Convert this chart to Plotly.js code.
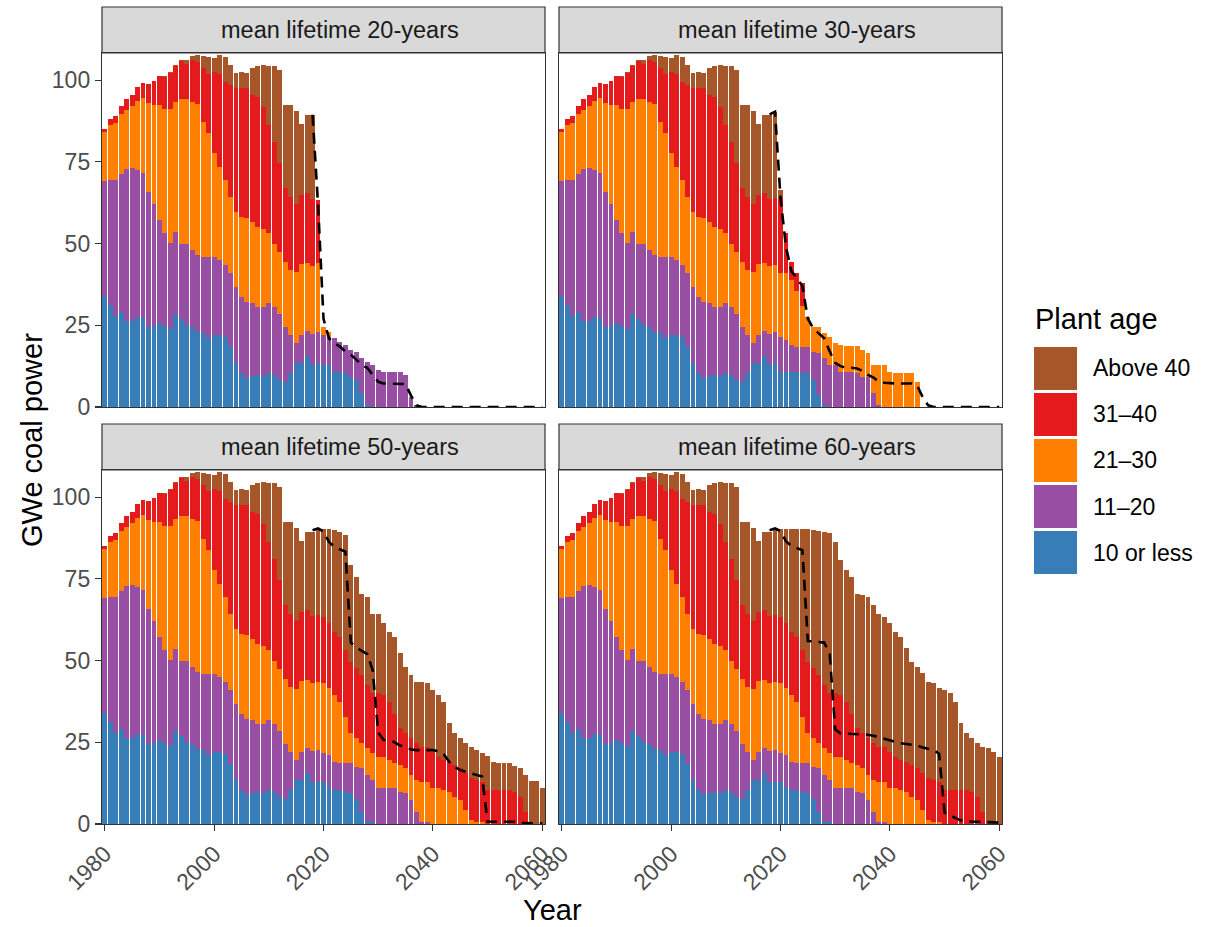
<!DOCTYPE html>
<html>
<head>
<meta charset="utf-8">
<script src="https://cdn.plot.ly/plotly-3.0.1.min.js"></script>
<style>
  html, body { margin: 0; padding: 0; background: #fff; }
  #chart { width: 1206px; height: 927px; }
</style>
</head>
<body>
<div id="chart"></div>
<script>
'use strict';

// age classes, bottom of the stack first
var ageClasses = ['10 or less', '11\u201320', '21\u201330', '31\u201340', 'Above 40'];
var ageColors = ['#377EB8', '#984EA3', '#FF7F00', '#E41A1C', '#A65628'];
var panelTitles = ['mean lifetime 20-years', 'mean lifetime 30-years',
                   'mean lifetime 50-years', 'mean lifetime 60-years'];
var xTickYears = [1980, 2000, 2020, 2040, 2060];
var yTickValues = [0, 25, 50, 75, 100];

// GWe by age class, 1980-2018 (same in every panel)
var histUnder10 = [33.9, 31.1, 27.9, 29.2, 26.3, 26.3, 27.6, 27.1, 24.6, 24.8,
                   25.8, 24.8, 23.8, 28.6, 26.8, 25.1, 24.4, 23.0, 22.5, 21.0,
                   22.0, 22.0, 21.5, 18.5, 13.4, 10.3, 8.8, 9.5, 9.8, 9.5,
                   10.3, 9.8, 8.3, 7.8, 10.3, 13.4, 13.5, 15.6, 12.9];
var hist11to20 = [35.3, 38.5, 41.5, 42.1, 46.5, 46.9, 44.9, 44.4, 41.3, 37.2,
                  31.4, 28.3, 26.5, 24.8, 23.0, 24.7, 23.6, 23.5, 23.5, 25.0,
                  24.0, 23.0, 21.9, 22.4, 23.4, 23.4, 23.4, 22.2, 20.9, 21.2,
                  21.4, 20.9, 20.3, 16.8, 11.7, 6.1, 8.6, 7.7, 9.4];
var hist21to30 = [15.0, 16.6, 17.6, 18.2, 18.2, 18.8, 21.2, 22.9, 27.2, 30.4,
                  35.2, 38.2, 41.0, 40.0, 44.3, 44.3, 45.4, 46.2, 41.3, 37.7,
                  31.6, 28.5, 26.0, 23.4, 22.9, 24.5, 25.5, 25.0, 24.4, 23.9,
                  21.4, 19.3, 18.9, 19.8, 19.9, 21.9, 21.8, 20.8, 20.7];
var hist31to40 = [1.0, 1.9, 2.1, 2.5, 3.2, 3.4, 4.1, 4.8, 5.7, 7.3,
                  8.8, 9.7, 10.9, 10.8, 11.7, 10.8, 12.8, 13.0, 16.4, 18.3,
                  24.9, 28.5, 30.1, 34.2, 37.8, 39.3, 39.8, 38.7, 39.8, 37.2,
                  33.1, 31.1, 27.0, 22.5, 22.4, 20.6, 21.1, 21.4, 20.5];
var histAbove40 = [0, 0, 0, 0, 0, 0, 0, 0, 0, 0,
                   0, 0.3, 0.4, 0.4, 0.5, 1.3, 1.2, 2.1, 3.7, 5.2,
                   4.2, 5.8, 7.7, 6.2, 4.8, 5.1, 4.6, 8.3, 9.3, 12.9,
                   18.0, 23.3, 28.7, 25.4, 28.0, 28.6, 21.7, 23.8, 25.9];

// projections 2019-2060
var life20Under10 = [13.4, 13.0, 12.8, 10.8, 10.8, 10.3, 9.3, 8.3, 4.2, 0.5,
                     0, 0, 0, 0, 0, 0, 0, 0, 0, 0, 0, 0, 0, 0, 0, 0, 0, 0, 0, 0,
                     0, 0, 0, 0, 0, 0, 0, 0, 0, 0, 0, 0];
var life20Age11to20 = [9.4, 9.0, 8.7, 10.2, 9.2, 8.7, 8.1, 8.6, 10.8, 13.4,
                       13.0, 11.3, 10.6, 10.6, 10.6, 10.6, 9.8, 3.2, 0.6, 0,
                       0, 0, 0, 0, 0, 0, 0, 0, 0, 0, 0, 0, 0, 0, 0, 0, 0, 0, 0, 0, 0, 0];
var life20Age21to30 = [21.2, 2.5, 1.5, 0, 0, 0, 0, 0, 0, 0,
                       0, 0, 0, 0, 0, 0, 0, 0, 0, 0, 0, 0, 0, 0, 0, 0, 0, 0, 0, 0,
                       0, 0, 0, 0, 0, 0, 0, 0, 0, 0, 0, 0];
var life20Age31to40 = [19.4, 0, 0, 0, 0, 0, 0, 0, 0, 0,
                       0, 0, 0, 0, 0, 0, 0, 0, 0, 0, 0, 0, 0, 0, 0, 0, 0, 0, 0, 0,
                       0, 0, 0, 0, 0, 0, 0, 0, 0, 0, 0, 0];
var life20Above40 = [0, 0, 0, 0, 0, 0, 0, 0, 0, 0,
                     0, 0, 0, 0, 0, 0, 0, 0, 0, 0, 0, 0, 0, 0, 0, 0, 0, 0, 0, 0,
                     0, 0, 0, 0, 0, 0, 0, 0, 0, 0, 0, 0];

var life30Under10 = [13.4, 10.8, 10.8, 10.8, 10.8, 10.5, 10.3, 8.3, 3.7, 0.6,
                     0, 0, 0, 0, 0, 0, 0, 0, 0, 0, 0, 0, 0, 0, 0, 0, 0, 0, 0, 0,
                     0, 0, 0, 0, 0, 0, 0, 0, 0, 0, 0, 0];
var life30Age11to20 = [9.6, 10.7, 9.7, 8.2, 7.7, 8.0, 8.2, 8.6, 12.7, 14.3,
                       12.8, 12.8, 10.8, 10.8, 10.8, 10.3, 9.3, 9.3, 4.2, 0.6,
                       0, 0, 0, 0, 0, 0, 0, 0, 0, 0, 0, 0, 0, 0, 0, 0, 0, 0, 0, 0, 0, 0];
var life30Age21to30 = [20.4, 19.4, 20.4, 20.0, 17.0, 12.5, 9.1, 7.7, 8.2, 7.6,
                       8.7, 6.7, 8.2, 7.9, 7.9, 8.4, 8.1, 7.3, 8.6, 12.2,
                       12.8, 10.8, 10.3, 10.3, 10.3, 10.3, 7.7, 0, 0, 0,
                       0, 0, 0, 0, 0, 0, 0, 0, 0, 0, 0, 0];
var life30Age31to40 = [20.4, 22.9, 12.2, 5.4, 5.4, 6.8, 0, 0, 0, 0,
                       0, 0, 0, 0, 0, 0, 0, 0, 0, 0, 0, 0, 0, 0, 0, 0, 0, 0, 0, 0,
                       0, 0, 0, 0, 0, 0, 0, 0, 0, 0, 0, 0];
var life30Above40 = [26.5, 2.6, 0, 0, 0, 0, 0, 0, 0, 0,
                     0, 0, 0, 0, 0, 0, 0, 0, 0, 0, 0, 0, 0, 0, 0, 0, 0, 0, 0, 0,
                     0, 0, 0, 0, 0, 0, 0, 0, 0, 0, 0, 0];

// the 50 and 60 year runs only differ in the oldest class
var long50Under10 = [12.9, 12.9, 11.4, 10.4, 10.4, 9.9, 9.4, 7.8, 3.8, 0.7,
                     0.7, 0, 0, 0, 0, 0, 0, 0, 0, 0, 0, 0, 0, 0, 0, 0, 0, 0, 0, 0,
                     0, 0, 0, 0, 0, 0, 0, 0, 0, 0, 0, 0];
var long50Age11to20 = [9.7, 8.7, 9.7, 8.7, 8.4, 8.9, 9.4, 9.7, 13.2, 14.3,
                       12.8, 10.9, 10.9, 10.9, 10.9, 9.9, 9.4, 7.3, 3.8, 0.7,
                       0.7, 0, 0, 0, 0, 0, 0, 0, 0, 0, 0, 0, 0, 0, 0, 0, 0, 0, 0, 0, 0, 0];
var long50Age21to30 = [20.9, 21.4, 20.4, 20.3, 18.6, 14.0, 8.9, 8.7, 7.7, 8.1,
                       8.1, 9.7, 9.7, 8.7, 7.7, 8.1, 7.6, 7.7, 9.7, 12.2,
                       12.2, 10.9, 10.9, 10.4, 9.9, 8.4, 7.3, 4.3, 1.2, 0.7,
                       0.7, 0, 0, 0, 0, 0, 0, 0, 0, 0, 0, 0];
var long50Age31to40 = [20.5, 20.4, 19.9, 19.4, 19.9, 20.4, 21.9, 21.4, 20.9, 19.4,
                       18.4, 19.4, 18.8, 17.8, 15.2, 11.3, 10.7, 11.2, 11.2, 10.7,
                       10.7, 11.2, 9.7, 9.2, 9.2, 9.6, 9.7, 11.2, 12.8, 12.8,
                       12.2, 10.4, 10.4, 10.4, 10.4, 10.4, 9.9, 8.4, 3.8, 0, 0, 0];
var life50Above40 = [26.2, 27.0, 29.0, 31.1, 32.1, 35.2, 29.6, 28.0, 24.9, 26.8,
                     24.4, 24.4, 22.0, 21.4, 23.5, 22.9, 20.4, 19.4, 18.8, 19.9,
                     19.4, 18.9, 18.8, 17.8, 11.7, 9.7, 9.2, 9.2, 9.6, 9.1,
                     8.9, 10.4, 8.7, 8.4, 8.4, 8.4, 7.8, 8.6, 11.2, 13.1, 13.1, 10.9];
var life60Above40 = [26.4, 27.0, 29.0, 31.6, 33.1, 37.2, 40.5, 42.3, 44.1, 46.9,
                     48.9, 46.3, 41.3, 40.3, 41.8, 41.2, 42.3, 43.3, 42.3, 40.8,
                     39.8, 39.3, 38.2, 37.7, 34.6, 31.6, 31.1, 30.6, 29.5, 29.5,
                     28.6, 30.6, 29.6, 27.0, 20.4, 17.3, 16.3, 16.3, 19.8, 23.1, 22.1, 20.6];

// dashed line, 2018-2060
var life20Dashed = [89.4, 62.0, 27.0, 21.0, 19.5, 18.5, 17.0, 16.0, 14.5, 12.8,
                    12.0, 10.0, 7.7, 7.2, 7.2, 7.2, 7.0, 7.0, 3.5, 0.5,
                    0, 0, 0, 0, 0, 0, 0, 0, 0, 0, 0, 0, 0, 0, 0, 0, 0, 0, 0, 0, 0, 0, 0];
var life30Dashed = [89.5, 90.3, 64.0, 49.0, 41.5, 39.5, 37.0, 27.0, 24.0, 22.5,
                    21.0, 17.0, 13.5, 12.5, 12.0, 12.0, 11.8, 11.0, 9.8, 9.0,
                    7.7, 7.4, 7.2, 7.2, 7.2, 7.2, 7.2, 6.5, 3.0, 0.5,
                    0, 0, 0, 0, 0, 0, 0, 0, 0, 0, 0, 0, 0];
var life50Dashed = [89.9, 90.4, 89.5, 86.3, 84.8, 84.0, 83.3, 55.5, 54.0, 53.0,
                    52.0, 47.0, 28.0, 25.7, 25.7, 25.0, 24.0, 23.6, 22.8, 22.6,
                    22.6, 22.6, 22.6, 22.3, 21.3, 19.0, 17.5, 16.5, 16.0, 15.5,
                    15.0, 14.5, 0.7, 0.7, 0.7, 0.7, 0.7, 0.7, 0.3, 0.3, 0.3, 0.2, 0.2];
var life60Dashed = [89.9, 90.4, 89.6, 86.5, 85.0, 84.3, 83.8, 56.0, 55.8, 55.7,
                    55.5, 52.0, 29.0, 27.7, 27.6, 27.6, 27.6, 27.5, 27.3, 27.0,
                    26.5, 26.0, 25.5, 25.0, 24.7, 24.5, 24.3, 24.0, 23.4, 23.0,
                    22.6, 21.5, 3.5, 2.8, 1.8, 1.1, 0.8, 0.7, 0.7, 0.7, 0.6, 0.5, 0.4];

var years = [];
for (var yr = 1980; yr <= 2060; yr++) years.push(yr);
var lineYears = years.slice(38);

var hist = [histUnder10, hist11to20, hist21to30, hist31to40, histAbove40];
var scenarios = [
    {proj: [life20Under10, life20Age11to20, life20Age21to30, life20Age31to40, life20Above40], dashed: life20Dashed},
    {proj: [life30Under10, life30Age11to20, life30Age21to30, life30Age31to40, life30Above40], dashed: life30Dashed},
    {proj: [long50Under10, long50Age11to20, long50Age21to30, long50Age31to40, life50Above40], dashed: life50Dashed},
    {proj: [long50Under10, long50Age11to20, long50Age21to30, long50Age31to40, life60Above40], dashed: life60Dashed}
];

var W = 1206, H = 927;
var FONT = 'Liberation Sans, Arial, Helvetica, sans-serif';
function px(x) { return x / W; }
function py(y) { return 1 - y / H; }

// panel boxes in pixels
var panelX = [[102, 545], [559, 1002], [102, 545], [559, 1002]];
var panelY = [[53, 407], [53, 407], [470, 824], [470, 824]];
var stripH = 46;

var traces = [];
var layout = {
    width: W, height: H, autosize: false,
    margin: {l: 0, r: 0, t: 0, b: 0},
    paper_bgcolor: '#fff', plot_bgcolor: '#fff',
    barmode: 'stack', bargap: 0.1,
    showlegend: false,
    font: {family: FONT, color: '#000'},
    shapes: [], annotations: []
};

scenarios.forEach(function(s, i) {
    var n = i === 0 ? '' : String(i + 1);
    var bottomRow = i >= 2, leftCol = i % 2 === 0;

    for (var c = 0; c < ageClasses.length; c++) {
        traces.push({
            type: 'bar', x: years, y: hist[c].concat(s.proj[c]),
            xaxis: 'x' + n, yaxis: 'y' + n,
            name: ageClasses[c],
            marker: {color: ageColors[c], line: {width: 0}},
            hovertemplate: '%{x}: %{y} GWe<extra>' + ageClasses[c] + '</extra>'
        });
    }
    traces.push({
        type: 'scatter', mode: 'lines', x: lineYears, y: s.dashed,
        xaxis: 'x' + n, yaxis: 'y' + n,
        line: {color: '#000', width: 2.6, dash: '11px,7px'},
        hoverinfo: 'skip'
    });

    layout['xaxis' + n] = {
        domain: [px(panelX[i][0]), px(panelX[i][1])],
        anchor: 'y' + n,
        range: [1979.5, 2060.5],
        tickvals: xTickYears,
        ticks: bottomRow ? 'outside' : '',
        ticklen: 6, tickwidth: 1.2, tickcolor: '#333333',
        showticklabels: bottomRow,
        tickangle: -45,
        tickfont: {size: 23, color: '#4D4D4D', family: FONT},
        showline: true, mirror: true, linecolor: '#333333', linewidth: 1.2,
        showgrid: false, zeroline: false, fixedrange: true
    };
    layout['yaxis' + n] = {
        domain: [py(panelY[i][1]), py(panelY[i][0])],
        anchor: 'x' + n,
        range: [0, 108.3],
        tickvals: yTickValues,
        ticks: leftCol ? 'outside' : '',
        ticklen: 6, tickwidth: 1.2, tickcolor: '#333333',
        showticklabels: leftCol,
        tickfont: {size: 23, color: '#4D4D4D', family: FONT},
        showline: true, mirror: true, linecolor: '#333333', linewidth: 1.2,
        showgrid: false, zeroline: false, fixedrange: true
    };

    // facet strip (label sits a little right of centre in the original)
    var top = panelY[i][0];
    layout.shapes.push({
        type: 'rect', xref: 'paper', yref: 'paper', layer: 'below',
        x0: px(panelX[i][0]), x1: px(panelX[i][1]),
        y0: py(top), y1: py(top - stripH),
        fillcolor: '#D9D9D9', line: {color: '#333333', width: 1.2}
    });
    layout.annotations.push({
        xref: 'paper', yref: 'paper', showarrow: false,
        x: px((panelX[i][0] + panelX[i][1]) / 2 + 16), y: py(top - stripH / 2),
        xanchor: 'center', yanchor: 'middle',
        text: panelTitles[i], font: {size: 23.5, color: '#1A1A1A', family: FONT}
    });
});

// axis titles
layout.annotations.push({
    xref: 'paper', yref: 'paper', showarrow: false,
    x: px(552), y: py(910), xanchor: 'center', yanchor: 'middle',
    text: 'Year', font: {size: 29, color: '#000', family: FONT}
});
layout.annotations.push({
    xref: 'paper', yref: 'paper', showarrow: false,
    x: px(32), y: py(440), xanchor: 'center', yanchor: 'middle', textangle: -90,
    text: 'GWe coal power', font: {size: 29, color: '#000', family: FONT}
});

// legend drawn by hand so the keys can be as big as the original
layout.annotations.push({
    xref: 'paper', yref: 'paper', showarrow: false,
    x: px(1033), y: py(319), xanchor: 'left', yanchor: 'middle',
    text: 'Plant age', font: {size: 29, color: '#000', family: FONT}
});
for (var k = 0; k < ageClasses.length; k++) {
    var c = ageClasses.length - 1 - k;
    var y0 = 347 + k * 46;
    layout.shapes.push({
        type: 'rect', xref: 'paper', yref: 'paper',
        x0: px(1034), x1: px(1077), y0: py(y0 + 43), y1: py(y0),
        fillcolor: ageColors[c], line: {width: 0}
    });
    layout.annotations.push({
        xref: 'paper', yref: 'paper', showarrow: false,
        x: px(1091), y: py(y0 + 21.5), xanchor: 'left', yanchor: 'middle',
        text: ageClasses[c], font: {size: 23, color: '#000', family: FONT}
    });
}

Plotly.newPlot('chart', traces, layout, {displayModeBar: false, staticPlot: true});
</script>
</body>
</html>
